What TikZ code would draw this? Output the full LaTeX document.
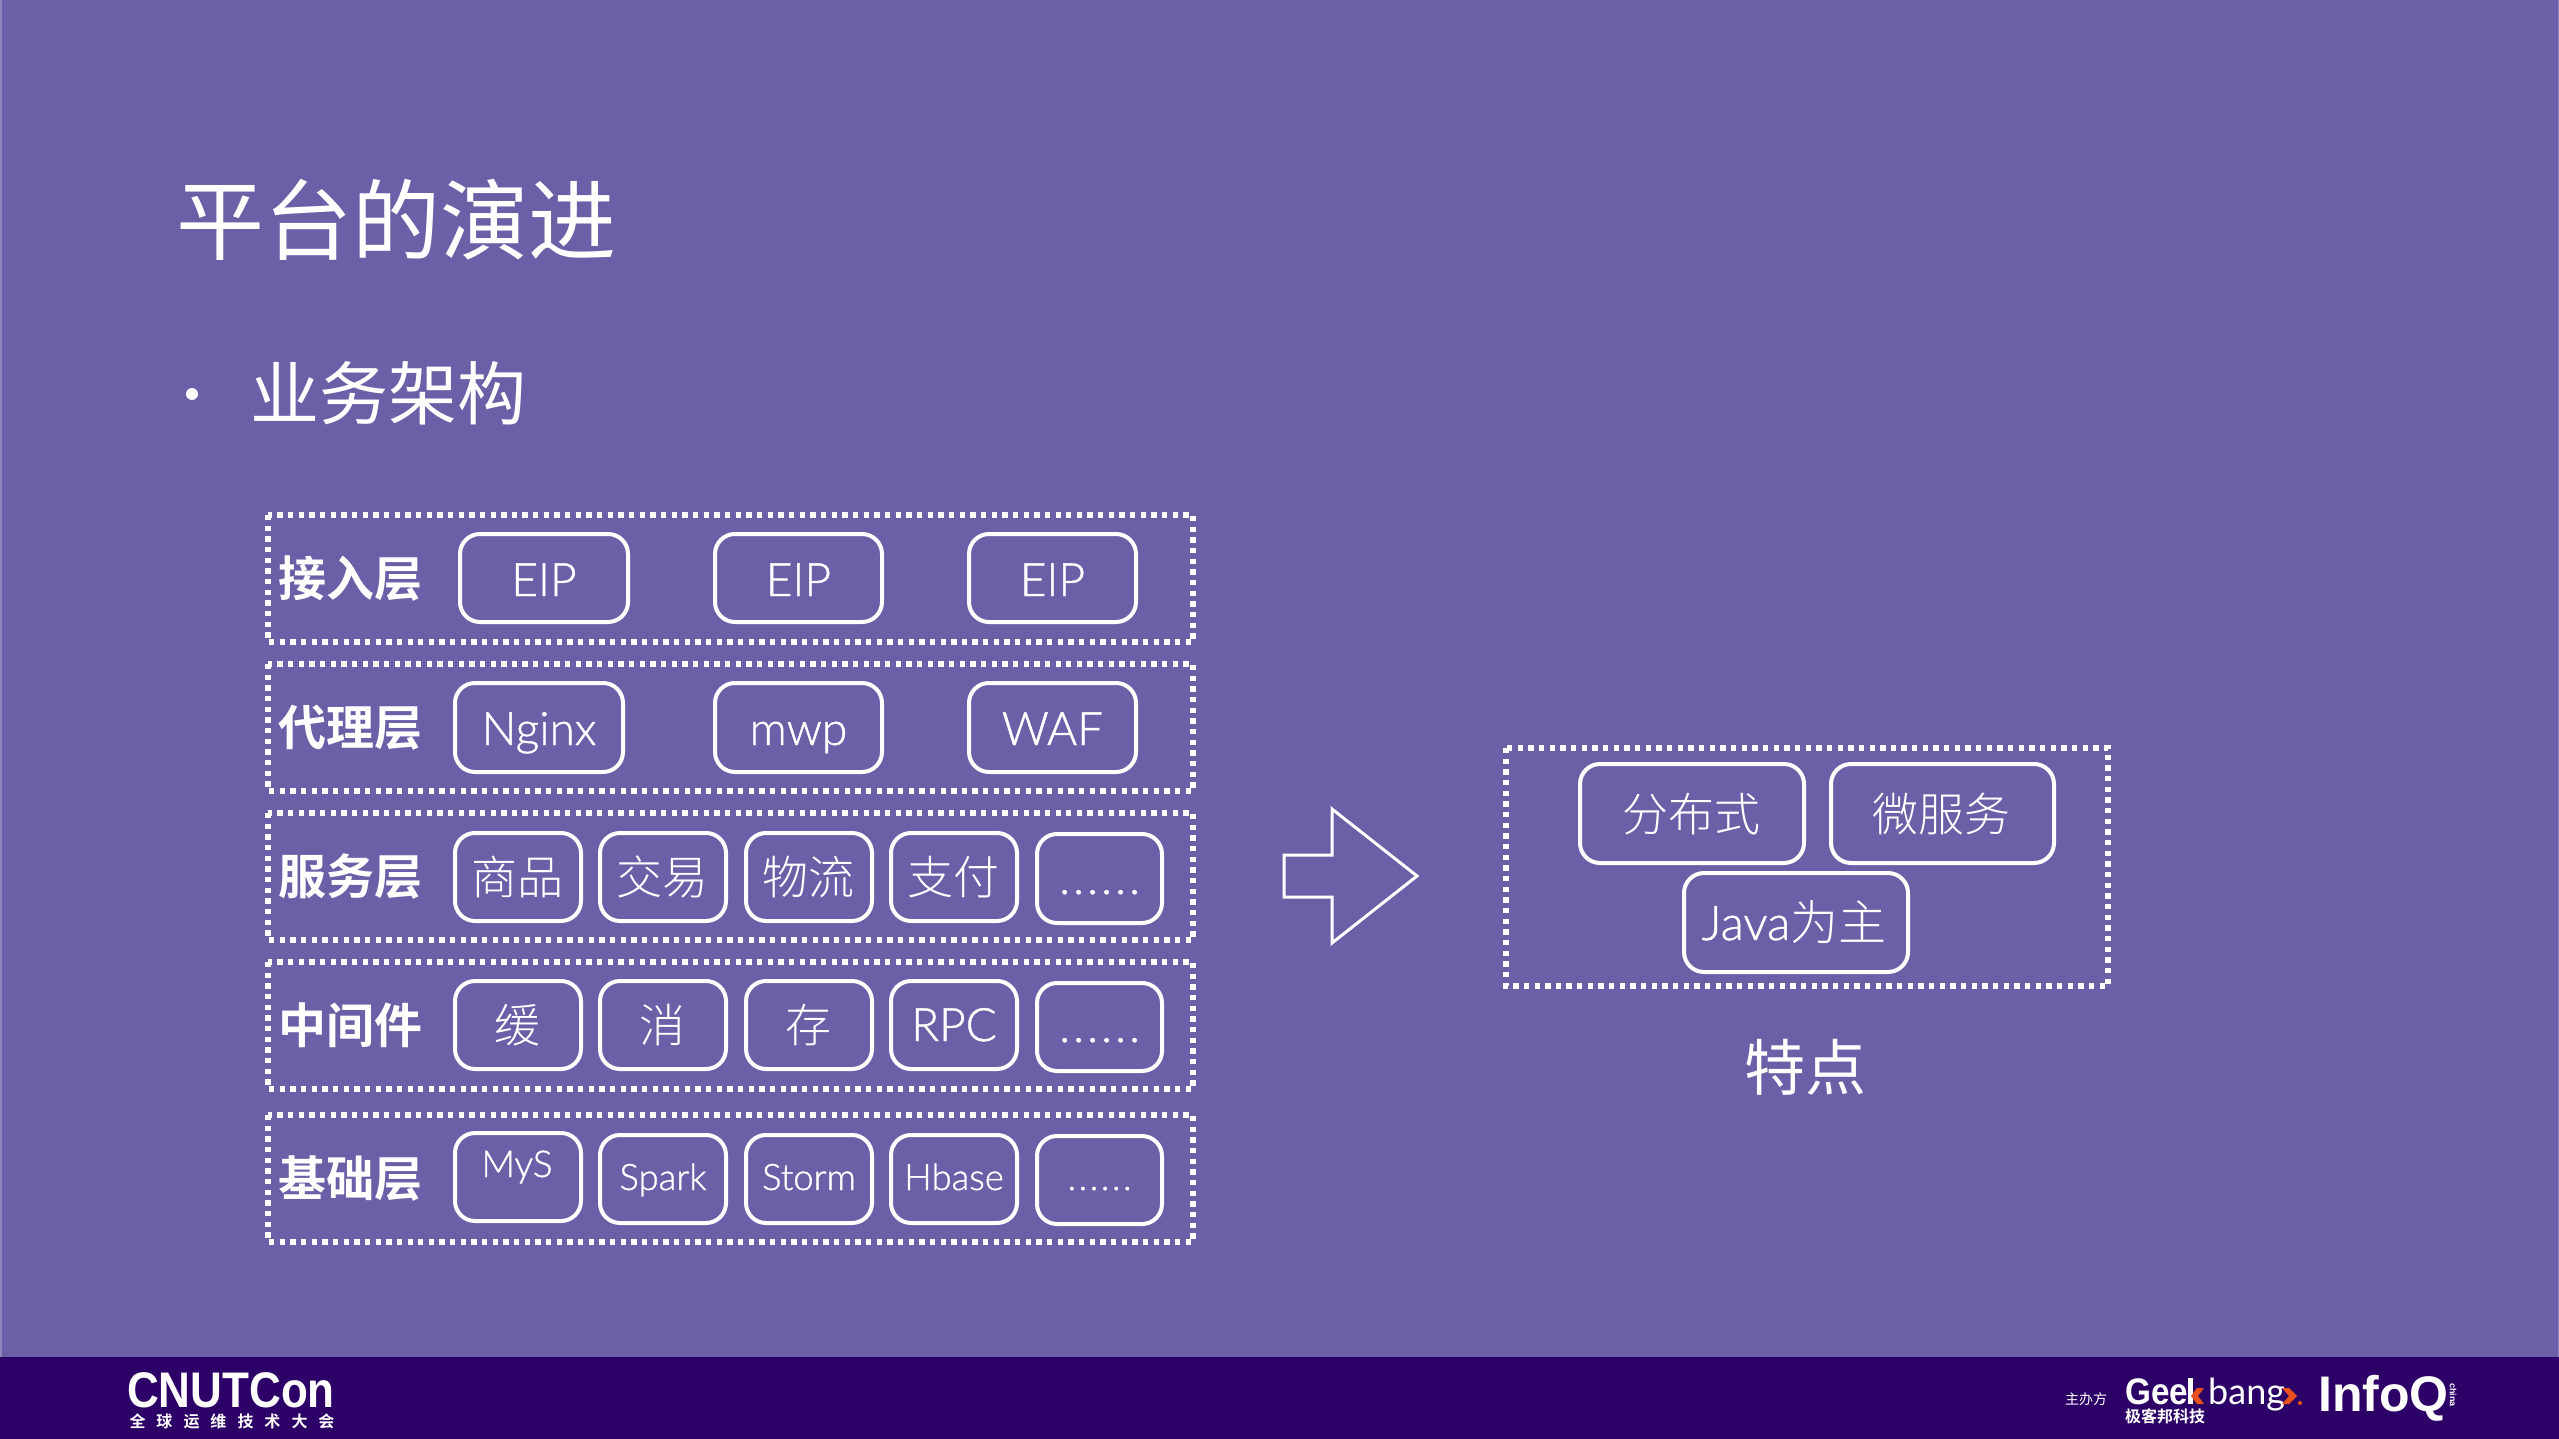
\documentclass[tikz,border=0pt]{standalone}
\usepackage{fontspec}
\setmainfont{Lato Light}
\newfontfamily\cjk{Noto Sans CJK SC}
\newfontfamily\cjkb{Noto Sans CJK SC Bold}
\IfFontExistsTF{Noto Sans CJK SC Light}{\newfontfamily\cjkl{Noto Sans CJK SC Light}}{\newfontfamily\cjkl{Noto Sans CJK SC}}
\newfontfamily\lat[UprightFeatures={FakeBold=1}]{Lato Light}
\newfontfamily\latreg{Lato}
\newfontfamily\latb{Liberation Sans Bold}
\definecolor{bgc}{HTML}{6A60A8}
\definecolor{barc}{HTML}{2C0066}
\definecolor{edgec}{HTML}{8D85BC}
\definecolor{orangec}{HTML}{E8501E}
\newcommand{\sixdots}{.\hspace{.07em}.\hspace{.07em}.\hspace{.07em}.\hspace{.07em}.\hspace{.07em}.}
\tikzset{
 layer/.style={draw=white,line width=5.5pt,dash pattern=on 5.33pt off 5.33pt},
 pill/.style={draw=white,line width=4pt,rounded corners=20pt},
 txt/.style={text=white,inner sep=0pt,anchor=center},
 txtb/.style={text=white,inner sep=0pt,anchor=base},
}
\begin{document}
\begin{tikzpicture}[x=1pt,y=-1pt]
\useasboundingbox (0,0) rectangle (2559,1439);
\fill[bgc] (0,0) rectangle (2559,1439);
\fill[edgec] (0,0) rectangle (1.5,1357);
\fill[edgec] (2557.5,0) rectangle (2559,1357);
\fill[barc] (0,1357) rectangle (2559,1439);
\node[txt,font=\cjk\fontsize{88}{88}\selectfont] (title) at (396,220) {平台的演进};
\node[fill=white,circle,inner sep=0pt,minimum size=12pt] (bullet) at (192,394) {};
\node[txt,font=\cjk\fontsize{69}{69}\selectfont] (sub) at (388,393) {业务架构};
\foreach \n/\a/\b/\lab in {a/515/642/接入层,b/664/791/代理层,c/813/940/服务层,d/962/1089/中间件,e/1115/1242/基础层}{
 \draw[layer] (268,\a) rectangle (1193,\b);
 \node[txt,font=\cjkb\fontsize{48}{48}\selectfont] (lab\n) at (350,{(\a+\b)/2}) {\lab};
}
\foreach \nm/\xa/\xb/\t in {p1/460/628/EIP,p2/715/882/EIP,p3/969/1136/EIP}{
 \draw[pill] (\xa,534) rectangle (\xb,622);
 \node[txtb,font=\lat\fontsize{46}{46}\selectfont] (\nm) at ({(\xa+\xb)/2},596) {\t};
}
\foreach \nm/\xa/\xb/\t in {q1/455/623/Nginx,q2/715/882/mwp,q3/969/1136/WAF}{
 \draw[pill] (\xa,683) rectangle (\xb,772);
 \node[txtb,font=\lat\fontsize{46}{46}\selectfont] (\nm) at ({(\xa+\xb)/2},745) {\t};
}
\foreach \nm/\xa/\xb/\ya/\yb/\t in {
 r1/455/581/833/921/商品,r2/600/726/833/921/交易,r3/746/872/833/921/物流,r4/891/1017/833/921/支付,
 s1/455/581/981/1069/缓,s2/600/726/981/1069/消,s3/746/872/981/1069/存}{
 \draw[pill] (\xa,\ya) rectangle (\xb,\yb);
 \node[txt,font=\cjkl\fontsize{46}{46}\selectfont] (\nm) at ({(\xa+\xb)/2-1},{(\ya+\yb)/2}) {\t};
}
\foreach \nm/\xa/\xb/\ya/\yb/\by/\t in {r5/1037/1162/834/923/894/\sixdots,s4/891/1017/981/1069/1041/RPC,s5/1037/1162/983/1071/1042/\sixdots}{
 \draw[pill] (\xa,\ya) rectangle (\xb,\yb);
 \node[txtb,font=\lat\fontsize{46}{46}\selectfont] (\nm) at ({(\xa+\xb)/2},\by) {\t};
}
\draw[pill] (455,1133) rectangle (581,1221);
\node[txtb,font=\lat\fontsize{37}{37}\selectfont] (t1) at (517,1177) {MyS};
\foreach \nm/\xa/\xb/\ya/\yb/\t in {t2/600/726/1135/1223/Spark,t3/746/872/1135/1223/Storm,t4/891/1017/1135/1223/Hbase,t5/1037/1162/1136/1224/\sixdots}{
 \draw[pill] (\xa,\ya) rectangle (\xb,\yb);
 \node[txtb,font=\lat\fontsize{36.5}{36.5}\selectfont] (\nm) at ({(\xa+\xb)/2},1190) {\t};
}
\draw[draw=white,line width=3pt,line join=miter] (1284,855) -- (1332,855) -- (1332,809) -- (1417,876) -- (1332,943) -- (1332,897) -- (1284,897) -- cycle;
\draw[layer] (1506,748) rectangle (2108,986);
\draw[pill] (1580,764) rectangle (1804,863);
\node[txt,font=\cjkl\fontsize{46}{46}\selectfont] (u1) at (1691,814) {分布式};
\draw[pill] (1831,764) rectangle (2054,863);
\node[txt,font=\cjkl\fontsize{46}{46}\selectfont] (u2) at (1941,814) {微服务};
\draw[pill] (1684,873) rectangle (1908,972);
\node[txtb,font=\lat\fontsize{48}{48}\selectfont] (u3) at (1794,940) {Java{\cjkl 为主}};
\node[txt,font=\cjk\fontsize{61}{61}\selectfont] (u4) at (1805,1067) {特点};
% footer
\node[txtb,font=\latb\fontsize{50}{50}\selectfont] (cn) at (231,1407) {\scalebox{0.88}[1]{CNUTCon}};
\node[txt,font=\cjkb\fontsize{16}{16}\selectfont] (cn2) at (232,1421) {全\hspace{11pt}球\hspace{11pt}运\hspace{11pt}维\hspace{11pt}技\hspace{11pt}术\hspace{11pt}大\hspace{11pt}会};
\node[txt,font=\cjk\fontsize{14}{14}\selectfont] (zb) at (2086,1399) {主办方};
\node[txtb,anchor=base west,font=\latb\fontsize{37}{37}\selectfont] (g1) at (2125,1404) {\scalebox{0.9}[1]{Gee}};
\fill[white] (2188,1378) rectangle (2193,1404);
\fill[orangec] (2204,1388) -- (2197,1388) -- (2191,1396) -- (2197,1404) -- (2204,1404) -- (2198,1396) -- cycle;
\node[txtb,anchor=base west,font=\latreg\fontsize{36}{36}\selectfont] (g3) at (2208,1404) {bang};
\fill[orangec] (2282,1388) -- (2289,1388) -- (2297,1396) -- (2289,1404) -- (2282,1404) -- (2289,1396) -- cycle;
\fill[orangec] (2300,1403) circle (2);
\node[txt,anchor=west,font=\cjkb\fontsize{16}{16}\selectfont] (g2) at (2125,1416) {极客邦科技};
\node[txtb,anchor=base west,font=\latb\fontsize{50}{50}\selectfont] (iq) at (2318,1411) {InfoQ};
\node[txt,rotate=-90,font=\latb\fontsize{9}{9}\selectfont] (iq2) at (2453,1395) {china};
\end{tikzpicture}
\end{document}
